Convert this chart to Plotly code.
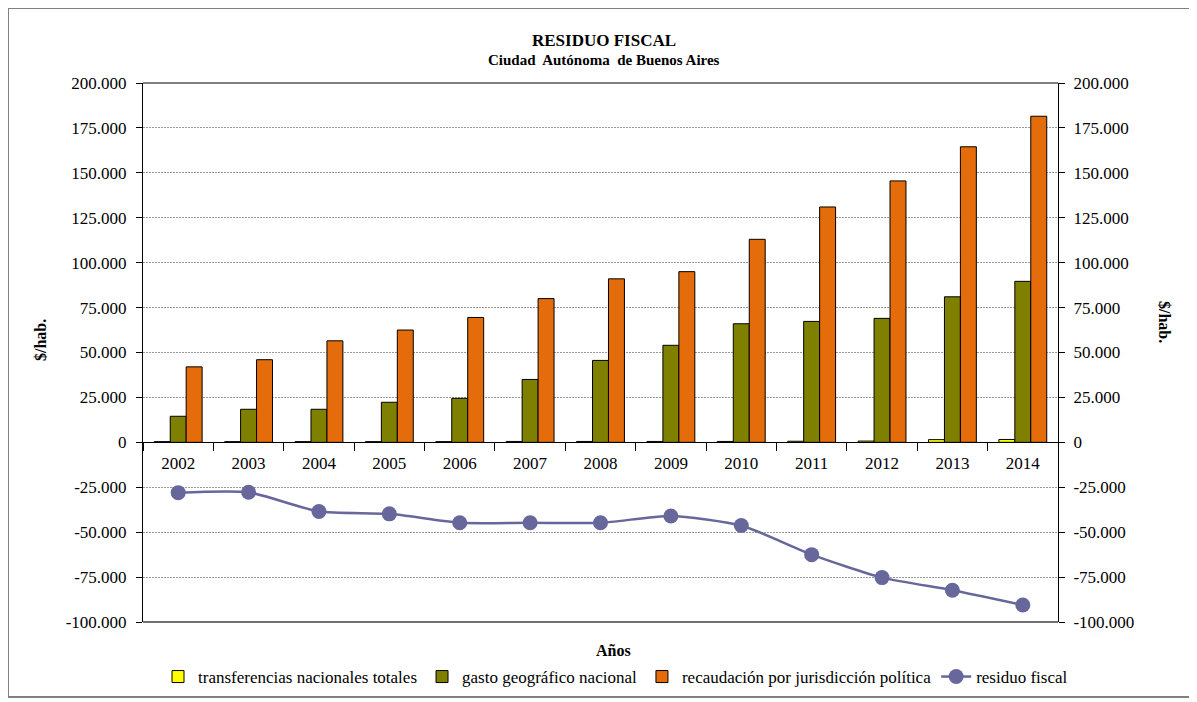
import plotly.graph_objects as go

years = ["2002", "2003", "2004", "2005", "2006", "2007", "2008", "2009", "2010", "2011", "2012", "2013", "2014"]
transferencias = [400, 400, 400, 400, 400, 500, 500, 500, 500, 600, 700, 1500, 1600]
gasto = [14500, 18400, 18400, 22300, 24500, 35000, 45600, 54000, 66000, 67300, 69000, 81000, 89600]
recaudacion = [42000, 46000, 56500, 62500, 69500, 80000, 91000, 95000, 113000, 131000, 145500, 164500, 181500]
residuo = [-28000, -27800, -38500, -39800, -44800, -44800, -44800, -41000, -46300, -62500, -75300, -82300, -90500]
tick_vals = [-100000, -75000, -50000, -25000, 0, 25000, 50000, 75000, 100000, 125000, 150000, 175000, 200000]


def fmt(v):
    s = f"{abs(v):,}".replace(",", ".")
    return ("-" if v < 0 else "") + s


tick_text = [fmt(v) for v in tick_vals]

FONT = "'Liberation Serif', 'Times New Roman', Times, serif"
OFF = 8  # page body margin
W, H = 1197 - OFF, 702 - OFF
L = 143 - OFF
T = 83 - OFF
R = W - (1058 - OFF)
B = H - (622 - OFF)
pw, ph = W - L - R, H - T - B
zero_pos = (0 - (-100000)) / 300000


def px_to_paper_x(px):
    return (px - OFF - L) / pw


def px_to_paper_y(py):
    return (H - B - (py - OFF)) / ph


fig = go.Figure()
fig.add_trace(go.Bar(x=years, y=transferencias, name="transferencias nacionales totales",
                     marker=dict(color="#FFFF00", line=dict(color="#000000", width=1))))
fig.add_trace(go.Bar(x=years, y=gasto, name="gasto geográfico nacional",
                     marker=dict(color="#808000", line=dict(color="#000000", width=1))))
fig.add_trace(go.Bar(x=years, y=recaudacion, name="recaudación por jurisdicción política",
                     marker=dict(color="#E46C0A", line=dict(color="#000000", width=1))))
fig.add_trace(go.Scatter(x=years, y=residuo, name="residuo fiscal", mode="lines+markers", yaxis="y2",
                         line=dict(color="#67679C", width=2.5, shape="spline", smoothing=0.6),
                         marker=dict(color="#67679C", size=15)))

fig.update_layout(
    width=W, height=H,
    margin=dict(l=L, r=R, t=T, b=B, autoexpand=False),
    paper_bgcolor="white", plot_bgcolor="white",
    font=dict(family=FONT, color="#000000", size=17),
    barmode="group", bargap=0.32, bargroupgap=0,
    showlegend=True,
    legend=dict(orientation="h", x=px_to_paper_x(158), xanchor="left", y=px_to_paper_y(659), yanchor="top",
                font=dict(family=FONT, size=17), itemwidth=30, traceorder="normal"),
    xaxis=dict(type="category", anchor="free", position=zero_pos, showline=True, linecolor="#000000",
               linewidth=1, ticks="outside", tickson="boundaries", ticklen=8, tickcolor="#000000",
               ticklabelstandoff=5,
               tickfont=dict(family=FONT, size=17), showgrid=False, zeroline=False, range=[-0.5, 12.5]),
    yaxis=dict(range=[-100000, 200000], tickvals=tick_vals, ticktext=tick_text, showline=True,
               linecolor="#000000", linewidth=1, ticks="outside", ticklen=6, tickcolor="#000000",
               ticklabelstandoff=6,
               showgrid=True, gridcolor="#9a9a9a", griddash="2px,1px", gridwidth=1, zeroline=False,
               tickfont=dict(family=FONT, size=17)),
    yaxis2=dict(range=[-100000, 200000], tickvals=tick_vals, ticktext=tick_text, overlaying="y",
                side="right", showline=True, linecolor="#000000", linewidth=1, ticks="outside", ticklen=6,
                ticklabelstandoff=5,
                tickcolor="#000000", showgrid=False, zeroline=False, tickfont=dict(family=FONT, size=17)),
)

ann = dict(xref="paper", yref="paper", showarrow=False, xanchor="center", yanchor="middle")
# title
fig.add_annotation(text="<b>RESIDUO FISCAL</b>", x=px_to_paper_x(604), y=px_to_paper_y(40),
                   font=dict(family=FONT, size=17), **ann)
fig.add_annotation(text="<b>Ciudad  Autónoma  de Buenos Aires</b>", x=px_to_paper_x(604), y=px_to_paper_y(60),
                   font=dict(family=FONT, size=15), **ann)

# top and bottom borders of plot area
fig.add_shape(type="line", xref="paper", yref="paper", x0=0, x1=1, y0=1, y1=1,
              line=dict(color="#000000", width=1))
fig.add_shape(type="line", xref="paper", yref="paper", x0=0, x1=1, y0=0, y1=0,
              line=dict(color="#707070", width=2))
# outer chart border
fig.add_shape(type="rect", xref="paper", yref="paper",
              x0=px_to_paper_x(8), x1=px_to_paper_x(1190), y0=px_to_paper_y(697), y1=px_to_paper_y(8),
              line=dict(color="#808080", width=2))

fig.add_annotation(text="<b>Años</b>", x=px_to_paper_x(613), y=px_to_paper_y(650),
                   font=dict(family=FONT, size=16), **ann)
fig.add_annotation(text="<b>$/hab.</b>", x=px_to_paper_x(40), y=px_to_paper_y(340),
                   textangle=-90, font=dict(family=FONT, size=16), **ann)
fig.add_annotation(text="<b>$/hab.</b>", x=px_to_paper_x(1165), y=px_to_paper_y(322),
                   textangle=90, font=dict(family=FONT, size=16), **ann)

fig.write_html("out.html")
